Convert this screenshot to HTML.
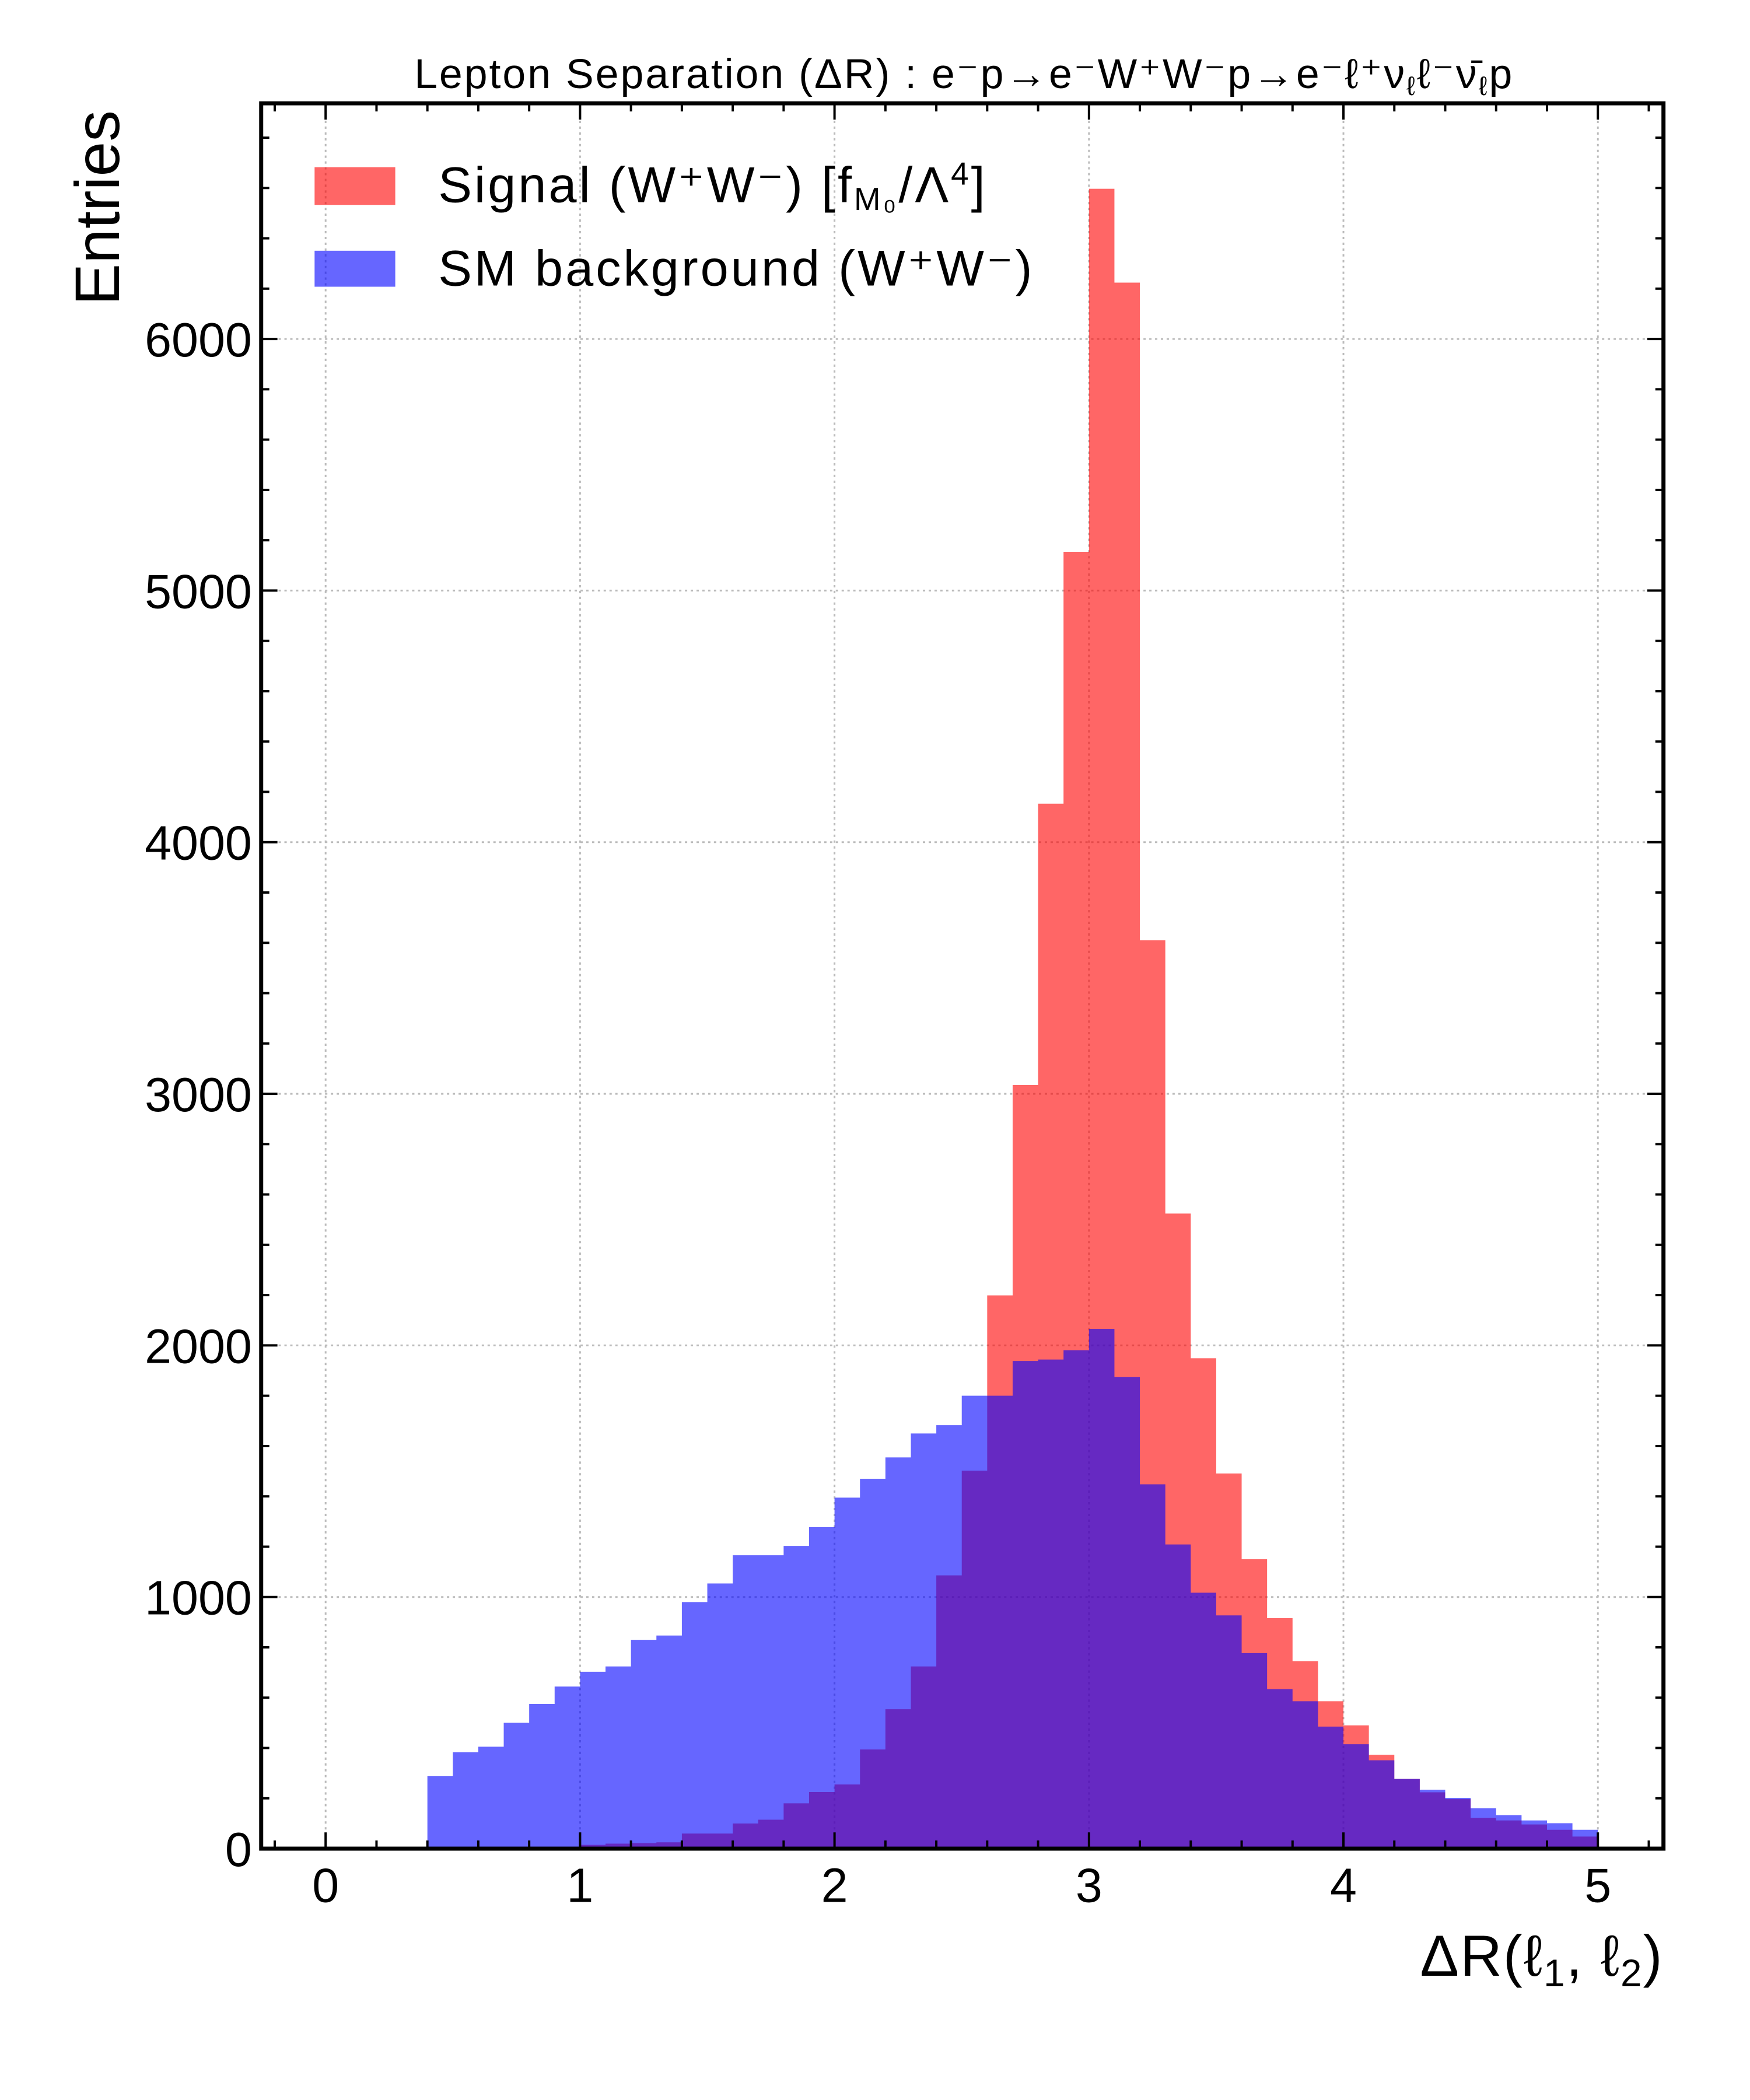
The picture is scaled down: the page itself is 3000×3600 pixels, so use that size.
<!DOCTYPE html>
<html><head><meta charset="utf-8"><style>
html,body{margin:0;padding:0;background:#fff}
svg{display:block;font-family:"Liberation Sans",sans-serif}
</style></head><body>
<svg id="chart" width="3000" height="3600" viewBox="0 0 3000 3600" xmlns="http://www.w3.org/2000/svg">
<rect width="3000" height="3600" fill="#fff"/>
<g transform="scale(0.995)">
<g id="grid"></g>
<g id="bars"></g>
<g id="ticks"></g>
<rect x="450" y="178" width="2416" height="3007" fill="none" stroke="#000" stroke-width="7"/>
<text x="1661" y="152" font-size="72" letter-spacing="3" text-anchor="middle">Lepton Separation (ΔR) : e⁻p→e⁻W⁺W⁻p→e⁻ℓ⁺ν<tspan font-size="46" dy="12">ℓ</tspan><tspan dy="-12">ℓ⁻ν̄</tspan><tspan font-size="46" dy="12">ℓ</tspan><tspan dy="-12">p</tspan></text>
<text transform="translate(205,190) rotate(-90)" font-size="108" text-anchor="end">Entries</text>
<text x="2866" y="3404" font-size="100" letter-spacing="2" text-anchor="end">ΔR(ℓ<tspan font-size="66" dy="18">1</tspan><tspan dy="-18">, ℓ</tspan><tspan font-size="66" dy="18">2</tspan><tspan dy="-18">)</tspan></text>
<g>
<rect x="542" y="288" width="139" height="65" fill="#ff0000" fill-opacity="0.6"/>
<text x="755" y="348" font-size="87" letter-spacing="4">Signal (W⁺W⁻) [f<tspan font-size="55" dy="14">M₀</tspan><tspan dy="-14">/Λ</tspan><tspan font-size="55" dy="-30">4</tspan><tspan dy="30">]</tspan></text>
<rect x="542" y="432" width="139" height="62" fill="#0000ff" fill-opacity="0.6"/>
<text x="755" y="492" font-size="87" letter-spacing="4">SM background (W⁺W⁻)</text>
</g>
</g>
</svg>
<script>
const binEdgesStart = 0;
const binWidth = 0.1;
const signalValues = [0,0,0,0,2,2,2,3,3,5,15,20,22,25,60,60,100,115,180,225,255,394,554,724,1086,1502,2199,3035,4153,5154,6597,6224,3610,2524,1949,1491,1150,916,745,586,490,373,277,224,197,122,112,96,75,48];
const backgroundValues = [0,0,0,0,288,383,405,500,575,644,703,724,830,847,980,1054,1166,1166,1203,1278,1395,1470,1555,1650,1683,1800,1800,1938,1944,1981,2066,1874,1448,1209,1017,927,777,634,586,485,415,351,277,234,202,160,133,112,101,75];
const xTicks = [0,1,2,3,4,5];
const yTicks = [0,1000,2000,3000,4000,5000,6000];
const NS='http://www.w3.org/2000/svg';
const X0=561, XU=438.4, Y0=3185, YU=0.4335;
function sx(v){return X0+v*XU;}
function sy(v){return Y0-v*YU;}
function mk(tag,attrs,parent){const e=document.createElementNS(NS,tag);for(const k in attrs)e.setAttribute(k,attrs[k]);parent.appendChild(e);return e;}
const grid=document.getElementById('grid'), bars=document.getElementById('bars'), ticks=document.getElementById('ticks');
xTicks.forEach(t=>{
  const l=mk('line',{x1:sx(t),x2:sx(t),y1:178,y2:3185,stroke:'#bbb','stroke-width':3,'stroke-dasharray':'4 6'},grid);
  
  
  const tx=mk('text',{x:sx(t),y:3277,'font-size':83,'text-anchor':'middle'},ticks);
  tx.textContent=t;
  
  
});
yTicks.forEach(t=>{
  const l=mk('line',{x1:450,x2:2866,y1:sy(t),y2:sy(t),stroke:'#bbb','stroke-width':3,'stroke-dasharray':'4 6'},grid);
  
  
  const tx=mk('text',{x:434,y:sy(t)+30,'font-size':83,'text-anchor':'end'},ticks);
  tx.textContent=t;
  
  
});
function drawSeries(vals,color,name){
  let d='M'+sx(binEdgesStart)+','+Y0;
  vals.forEach((v,i)=>{
    const a=binEdgesStart+i*binWidth;
    d+=' L'+sx(a)+','+sy(v)+' L'+sx(a+binWidth)+','+sy(v);
  });
  d+=' L'+sx(binEdgesStart+vals.length*binWidth)+','+Y0+' Z';
  const p=mk('path',{d:d,fill:color,'fill-opacity':0.6},bars);
  
  
}
drawSeries(signalValues,'#ff0000','signal-histogram');
drawSeries(backgroundValues,'#0000ff','background-histogram');
for(let k=-1;k<=26;k++){
  const v=k*0.2; const x=sx(v); if(x<452||x>2864)continue;
  const major=Math.abs(v-Math.round(v))<1e-6; const L=major?28:14;
  const a=mk('line',{x1:x,x2:x,y1:3185,y2:3185-L,stroke:'#000','stroke-width':4},ticks);
  
  
  const b=mk('line',{x1:x,x2:x,y1:178,y2:178+L,stroke:'#000','stroke-width':4},ticks);
  
  
}
for(let v=0;v<=6900;v+=200){
  const y=sy(v); if(y<180)continue;
  const major=v%1000===0; const L=major?28:14;
  const a=mk('line',{x1:450,x2:450+L,y1:y,y2:y,stroke:'#000','stroke-width':4},ticks);
  
  
  const b=mk('line',{x1:2866,x2:2866-L,y1:y,y2:y,stroke:'#000','stroke-width':4},ticks);
  
  
}
</script>
</body></html>
